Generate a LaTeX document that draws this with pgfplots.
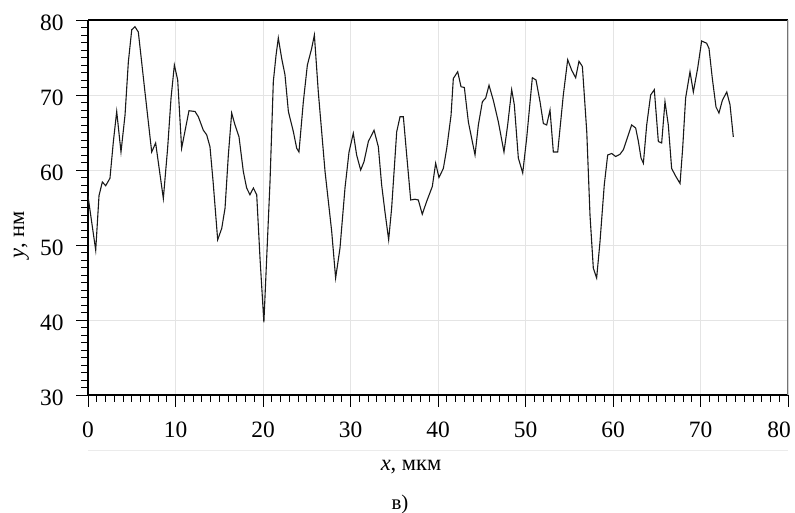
\documentclass[border=0pt]{standalone}
\usepackage{fontspec}
\setmainfont{Liberation Serif}
\usepackage{pgfplots}
\pgfplotsset{compat=1.18}

% surface profile, y in nm against x in micrometres
\pgfplotstableread{
x y
0 56.5
0.88 49.3
1.26 56.6
1.64 58.4
2.02 57.9
2.51 58.9
2.9 63.8
3.28 67.8
3.77 62.4
4.23 67.3
4.61 74.4
5.0 78.7
5.37 79.1
5.75 78.4
6.51 70.4
7.28 62.4
7.73 63.6
8.61 56.2
9.1 62.9
9.49 69.6
9.87 74.0
10.25 72.0
10.7 62.9
11.54 67.9
12.23 67.8
12.61 67.1
13.18 65.3
13.56 64.7
13.94 63.1
14.3 58.4
14.82 50.7
15.28 52.2
15.66 54.9
16.04 62.0
16.42 67.6
16.8 66.0
17.26 64.4
17.75 59.8
18.13 57.6
18.51 56.7
18.9 57.6
19.28 56.7
19.66 48.2
20.1 39.7
20.8 58.4
21.18 71.8
21.49 75.3
21.75 77.6
22.13 74.9
22.51 72.7
22.9 67.8
23.47 65.1
23.85 62.9
24.11 62.4
24.61 69.1
25.07 74.0
25.56 76.2
25.87 78.0
26.32 70.4
27.09 59.8
27.85 51.8
28.3 45.6
28.8 49.6
29.37 57.6
29.83 62.4
30.32 64.9
30.7 62.0
31.16 60.0
31.54 61.1
32.04 63.8
32.69 65.3
33.18 63.1
33.56 58.0
33.94 54.4
34.36 50.7
34.7 54.9
35.28 65.1
35.66 67.1
36.04 67.1
36.42 62.0
36.88 56.0
37.37 56.1
37.75 56.0
38.2 54.1
38.7 55.8
39.35 57.8
39.73 60.9
40.11 59.0
40.61 60.2
41.0 62.9
41.49 67.3
41.75 72.2
42.25 73.1
42.63 71.1
43.01 71.0
43.47 66.4
44.23 62.0
44.61 66.0
45.07 69.1
45.45 69.6
45.83 71.3
46.32 69.3
46.9 66.4
47.54 62.4
47.96 66.0
48.42 70.7
48.72 68.7
49.18 61.6
49.68 59.6
50.13 64.2
50.78 72.3
51.2 72.0
51.66 69.1
52.04 66.2
52.42 66.0
52.8 68.0
53.18 62.4
53.68 62.4
54.32 70.0
54.82 74.7
55.28 73.3
55.73 72.3
56.11 74.5
56.5 73.8
57.0 65.1
57.37 54.0
57.75 46.9
58.13 45.6
58.51 50.4
59.0 58.0
59.39 62.0
59.85 62.2
60.3 61.8
60.8 62.1
61.18 62.7
61.56 64.0
62.13 66.0
62.59 65.6
62.9 63.8
63.2 61.6
63.47 60.9
63.85 66.0
64.3 70.0
64.72 70.7
65.18 63.8
65.56 63.6
65.94 69.1
66.32 66.0
66.7 60.2
67.2 59.1
67.66 58.2
67.96 62.9
68.3 69.6
68.8 73.1
69.18 70.4
69.68 73.6
70.13 77.2
70.7 76.9
70.97 76.2
71.35 72.2
71.77 68.4
72.11 67.6
72.5 69.3
73.0 70.4
73.37 68.7
73.75 64.4
}\profile

\definecolor{gridgray}{HTML}{E4E4E4}

\begin{document}
\begin{tikzpicture}[x=1bp,y=1bp]
\useasboundingbox (0,0) rectangle (795,513);
\begin{axis}[
  at={(88bp,118bp)}, anchor=south west,
  scale only axis, width=700bp, height=375bp,
  xmin=0, xmax=80, ymin=30, ymax=80,
  xtick={0,10,...,80}, ytick={30,40,...,80},
  xticklabels={0,10,20,30,40,50,60,70,\hspace*{-18bp}80},
  minor x tick num=9, minor y tick num=9,
  axis x line*=bottom, axis y line*=left,
  axis line style={-, black, line width=1.1bp},
  tick align=outside,
  major tick length=12bp, minor tick length=7bp,
  tick style={black, line width=0.8bp},
  grid=major,
  major grid style={gridgray, line width=0.9bp},
  /pgf/number format/assume math mode=true,
  ticklabel style={font=\fontsize{23.5}{27}\selectfont},
  xticklabel style={yshift=-11bp},
  yticklabel style={xshift=-9bp, yshift=-3bp},
]
\addplot[black!90, line width=1.1bp] table {\profile};
\draw[black, line width=1.1bp] (rel axis cs:0,1) -- (rel axis cs:1,1);
\draw[black!55, line width=1.1bp] (rel axis cs:1,0) -- (rel axis cs:1,1);
\end{axis}
\draw[black!8, line width=0.8bp] (88,63) -- (788,63);
\node[rotate=90, anchor=base, font=\fontsize{22.5}{26}\selectfont] at (24,278) {\textit{y}, нм};
\node[anchor=base, font=\fontsize{22.5}{26}\selectfont] at (411,42) {\textit{x}, мкм};
\node[anchor=base, font=\fontsize{21}{24}\selectfont] at (400,3) {в)};
\end{tikzpicture}
\end{document}
